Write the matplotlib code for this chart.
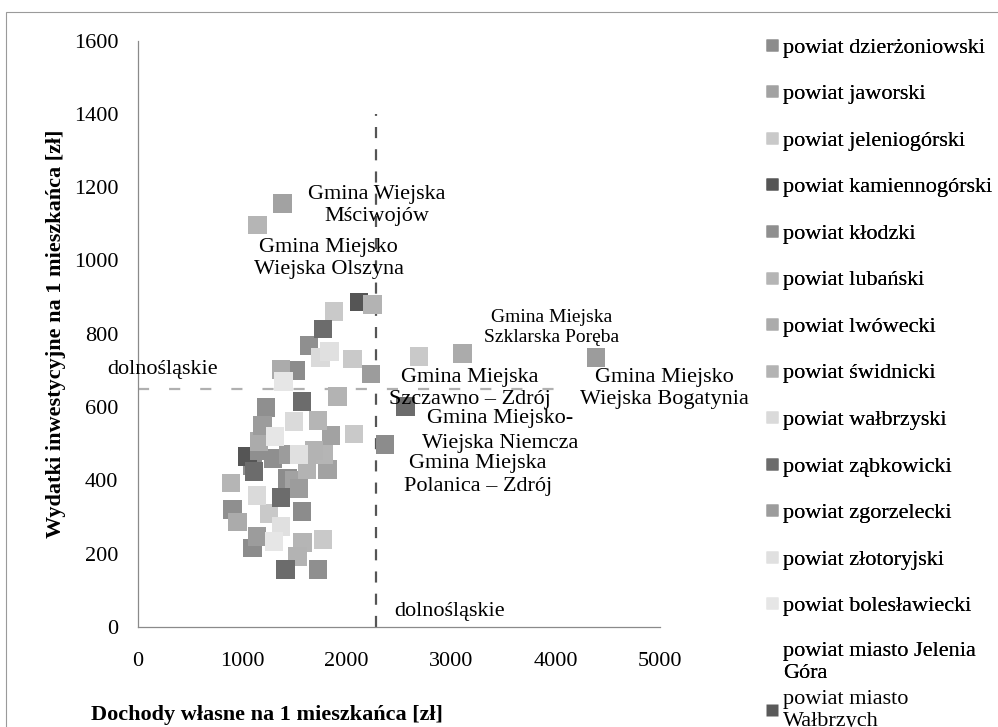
import matplotlib
matplotlib.use("Agg")
import matplotlib.pyplot as plt
from matplotlib.lines import Line2D
from matplotlib.patches import Rectangle

plt.rcParams['font.family'] = ['Liberation Serif', 'DejaVu Serif']

# ---------------- data ----------------
series_names = [
    "powiat dzierżoniowski", "powiat jaworski", "powiat jeleniogórski",
    "powiat kamiennogórski", "powiat kłodzki", "powiat lubański",
    "powiat lwówecki", "powiat świdnicki", "powiat wałbrzyski",
    "powiat ząbkowicki", "powiat zgorzelecki", "powiat złotoryjski",
    "powiat bolesławiecki", "powiat miasto Jelenia\nGóra", "powiat miasto\nWałbrzych",
]
series_colors = [
    "#8c8c8c", "#a2a2a2", "#c9c9c9", "#555555", "#8f8f8f", "#b5b5b5",
    "#ababab", "#b3b3b3", "#dadada", "#6c6c6c", "#9c9c9c", "#e0e0e0",
    "#e6e6e6", "#ffffff", "#5a5a5a",
]

x_dzierzoniowski = [1510, 1433, 1572, 1099, 2366, 1099]
y_dzierzoniowski = [700, 405, 315, 216, 498, 440]
x_jaworski = [1386, 1850, 1816, 1500]
y_jaworski = [1155, 523, 430, 400]
x_jeleniogorski = [1878, 2056, 2070, 1256, 1773, 2692]
y_jeleniogorski = [861, 731, 527, 310, 239, 738]
x_kamiennogorski = [2118, 1051]
y_kamiennogorski = [887, 465]
x_klodzki = [1639, 1228, 1295, 906, 1725, 1160]
y_klodzki = [768, 599, 460, 321, 157, 480]
x_lubanski = [1146, 1725, 893, 1577, 1780]
y_lubanski = [1097, 564, 393, 230, 470]
x_lwowecki = [1371, 1160, 955, 3108]
y_lwowecki = [703, 506, 286, 746]
x_swidnicki = [1912, 1687, 1529, 2247, 1620]
y_swidnicki = [629, 482, 193, 880, 430]
x_walbrzyski = [1750, 1496, 1142]
y_walbrzyski = [735, 561, 359]
x_zabkowicki = [1773, 1572, 1113, 1371, 1414, 2563]
y_zabkowicki = [813, 615, 425, 354, 157, 602]
x_zgorzelecki = [2233, 1194, 1543, 1142, 4386, 1440]
y_zgorzelecki = [690, 550, 378, 247, 735, 470]
x_zlotoryjski = [1835, 1543, 1371]
y_zlotoryjski = [752, 471, 275]
x_boleslawiecki = [1395, 1314, 1304]
y_boleslawiecki = [670, 520, 234]
x_jelenia_gora = []
y_jelenia_gora = []
x_walbrzych = []
y_walbrzych = []

series_x = [x_dzierzoniowski, x_jaworski, x_jeleniogorski, x_kamiennogorski,
            x_klodzki, x_lubanski, x_lwowecki, x_swidnicki, x_walbrzyski,
            x_zabkowicki, x_zgorzelecki, x_zlotoryjski, x_boleslawiecki,
            x_jelenia_gora, x_walbrzych]
series_y = [y_dzierzoniowski, y_jaworski, y_jeleniogorski, y_kamiennogorski,
            y_klodzki, y_lubanski, y_lwowecki, y_swidnicki, y_walbrzyski,
            y_zabkowicki, y_zgorzelecki, y_zlotoryjski, y_boleslawiecki,
            y_jelenia_gora, y_walbrzych]

# regional averages (dolnośląskie)
avg_line_x_h = [0, 4100]
avg_line_y_h = [648, 648]
avg_line_x_v = [2277, 2277]
avg_line_y_v = [0, 1400]

# point labels (text, x, y, fontsize, linespacing)
point_labels = [
    ("Gmina Wiejska\nMściwojów", 2289, 1150, 16, 1.25),
    ("Gmina Miejsko\nWiejska Olszyna", 1830, 1005, 16, 1.25),
    ("Gmina Miejska\nSzklarska Poręba", 3965, 817, 14, 1.25),
    ("Gmina Miejsko\nWiejska Bogatynia", 5046, 651, 16, 1.25),
    ("Gmina Miejska\nSzczawno – Zdrój", 3180, 651, 16, 1.25),
    ("Gmina Miejsko-\nWiejska Niemcza", 3467, 534, 16, 1.4),
    ("Gmina Miejska\nPolanica – Zdrój", 3256, 414, 16, 1.25),
]
avg_labels = [("dolnośląskie", 242, 703), ("dolnośląskie", 2990, 43)]

x_ticks = [0, 1000, 2000, 3000, 4000, 5000]
y_ticks = [0, 200, 400, 600, 800, 1000, 1200, 1400, 1600]

# ---------------- figure ----------------
W, H = 998, 727
fig = plt.figure(figsize=(W / 100, H / 100), dpi=100)
ax = fig.add_axes([137.7 / W, 1 - 627 / H, (660 - 137.7) / W, (627 - 40.5) / H])

# outer frame
fig.add_artist(Rectangle((6 / W, -0.05), 1.2, 1 - 12 / H + 0.05,
                         transform=fig.transFigure, fill=False,
                         edgecolor="#9a9a9a", linewidth=0.8, zorder=0))

# reference lines
ax.plot(avg_line_x_h, avg_line_y_h, color="#b0b0b0", linewidth=1.6,
        dashes=(5, 9), zorder=1)
ax.plot(avg_line_x_v, avg_line_y_v, color="#555555", linewidth=1.6,
        dashes=(5, 5), zorder=1)

for xs, ys, col in zip(series_x, series_y, series_colors):
    if xs:
        ax.scatter(xs, ys, marker="s", s=180, c=col, edgecolors="none", zorder=3)

for txt, x, y, fs, ls in point_labels:
    ax.text(x, y, txt, ha="center", va="center", fontsize=fs,
            multialignment="center", linespacing=ls, zorder=4)
for txt, x, y in avg_labels:
    ax.text(x, y, txt, ha="center", va="center", fontsize=16, zorder=4)

ax.set_xlim(0, 5000)
ax.set_ylim(0, 1600)
ax.set_xticks(x_ticks)
ax.set_yticks(y_ticks)
ax.tick_params(length=0, labelsize=16)
ax.tick_params(axis="y", pad=14)
ax.tick_params(axis="x", pad=18)
for s in ["top", "right"]:
    ax.spines[s].set_visible(False)
for s in ["left", "bottom"]:
    ax.spines[s].set_color("#8a8a8a")
    ax.spines[s].set_linewidth(0.9)

ax.set_ylabel("Wydatki inwestycyjne na 1 mieszkańca [zł]", fontsize=16,
              fontweight="bold")
ax.yaxis.set_label_coords((66 - 137.7) / (660 - 137.7), 0.5)
fig.text(267 / W, 1 - 715 / H, "Dochody własne na 1 mieszkańca [zł]",
         ha="center", va="center", fontsize=16, fontweight="bold")

# legend
handles = [Line2D([], [], marker="s", linestyle="none", markersize=8,
                  markerfacecolor=c, markeredgecolor="none") for c in series_colors]
leg1 = fig.legend(handles[:14], series_names[:14], loc="upper left",
                  bbox_to_anchor=(766 / W, 1 - 37 / H), frameon=False,
                  fontsize=16, handlelength=0.5, handletextpad=0.25,
                  labelspacing=1.17, borderpad=0, borderaxespad=0)
fig.add_artist(leg1)
leg2 = fig.legend(handles[14:], series_names[14:], loc="upper left",
                  bbox_to_anchor=(766 / W, 1 - 690 / H), frameon=False,
                  fontsize=16, handlelength=0.5, handletextpad=0.25,
                  labelspacing=1.17, borderpad=0, borderaxespad=0)
for lg in (leg1, leg2):
    for t in lg.get_texts():
        t.set_linespacing(1.2)

fig.savefig("out.png", dpi=100)
